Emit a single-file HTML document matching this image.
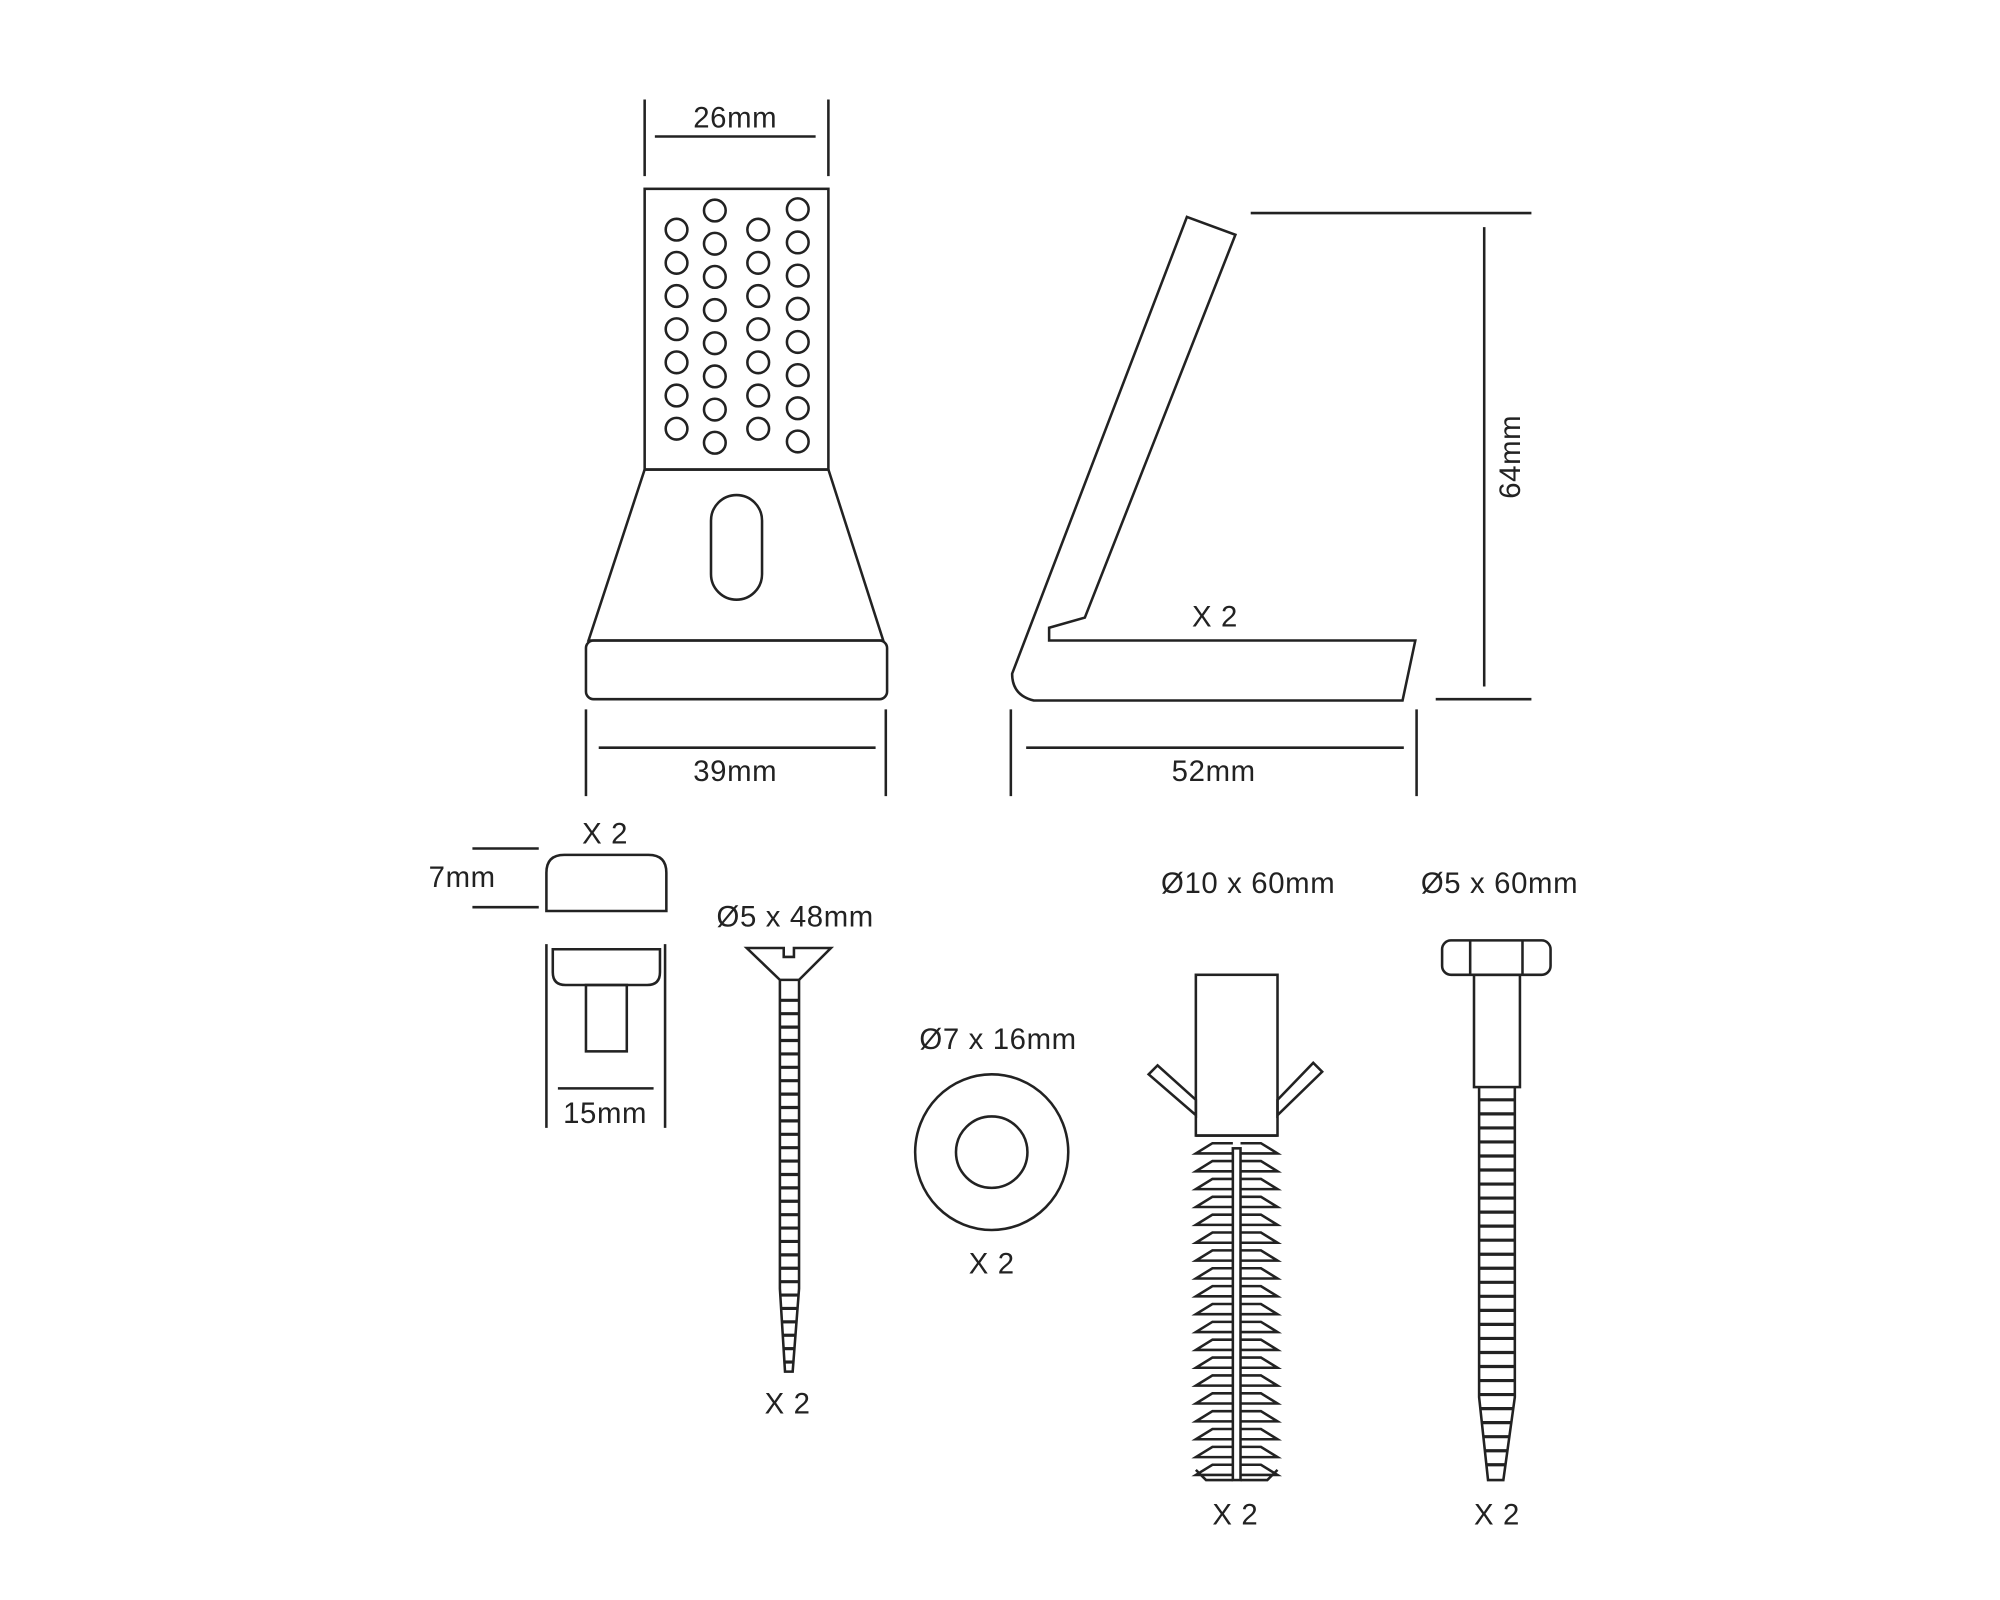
<!DOCTYPE html>
<html><head><meta charset="utf-8"><style>
html,body{margin:0;padding:0;background:#fff}
svg{display:block}
text{font-family:"Liberation Sans",Arial,sans-serif;font-size:23px;fill:#222;letter-spacing:0.5px}
</style></head><body>
<svg id="s" width="2000" height="1600" viewBox="0 0 1567 1254" xmlns="http://www.w3.org/2000/svg" fill="none" stroke="#222" stroke-width="2">
<!-- Front bracket -->
<rect x="505" y="148" width="144" height="220"/>
<g id="holes"></g>
<polygon points="505,368 649,368 692,502 461,502"/>
<rect x="557" y="388" width="40" height="82" rx="20"/>
<rect x="459" y="502" width="236" height="46" rx="6"/>
<line x1="505" y1="78" x2="505" y2="138"/><line x1="649" y1="78" x2="649" y2="138"/>
<line x1="513" y1="107" x2="639" y2="107"/>
<text x="576" y="100" text-anchor="middle" stroke="none">26mm</text>
<line x1="459" y1="556" x2="459" y2="624"/><line x1="694" y1="556" x2="694" y2="624"/>
<line x1="469" y1="586" x2="686" y2="586"/>
<text x="576" y="612" text-anchor="middle" stroke="none">39mm</text>
<!-- Side bracket -->
<path d="M930,170 L968,184 L850,484 L822,492 L822,502 L1109,502 L1099,549 L810,549 Q793,545 793,528 Z"/>
<text x="952" y="491" text-anchor="middle" stroke="none">X 2</text>
<line x1="980" y1="167" x2="1200" y2="167"/><line x1="1125" y1="548" x2="1200" y2="548"/>
<line x1="1163" y1="178" x2="1163" y2="538"/>
<text transform="translate(1191,358) rotate(-90)" text-anchor="middle" stroke="none">64mm</text>
<line x1="792" y1="556" x2="792" y2="624"/><line x1="1110" y1="556" x2="1110" y2="624"/>
<line x1="804" y1="586" x2="1100" y2="586"/>
<text x="951" y="612" text-anchor="middle" stroke="none">52mm</text>
<!-- Cap -->
<text x="474" y="661" text-anchor="middle" stroke="none">X 2</text>
<path d="M428,714 L428,684 Q428,670 442,670 L508,670 Q522,670 522,684 L522,714 Z"/>
<line x1="370" y1="665" x2="422" y2="665"/><line x1="370" y1="711" x2="422" y2="711"/>
<text x="362" y="695" text-anchor="middle" stroke="none">7mm</text>
<line x1="428" y1="740" x2="428" y2="884"/><line x1="521" y1="740" x2="521" y2="884"/>
<path d="M433,744 L517,744 L517,762 Q517,772 507,772 L443,772 Q433,772 433,762 Z"/>
<rect x="459" y="772" width="32" height="52"/>
<line x1="437" y1="853" x2="512" y2="853"/>
<text x="474" y="880" text-anchor="middle" stroke="none">15mm</text>
<!-- Screw 1 -->
<text x="623" y="726" text-anchor="middle" stroke="none">Ø5 x 48mm</text>
<path d="M585,743 L614,743 L614,750 L622,750 L622,743 L651,743 L626,768 L611,768 Z"/>
<path d="M611,768 L611,1010 L615,1075 L621,1075 L626,1010 L626,768"/>
<g id="t1"></g>
<text x="617" y="1108" text-anchor="middle" stroke="none">X 2</text>
<!-- Washer -->
<text x="782" y="822" text-anchor="middle" stroke="none">Ø7 x 16mm</text>
<ellipse cx="777" cy="903" rx="60" ry="61"/>
<circle cx="777" cy="903" r="28"/>
<text x="777" y="998" text-anchor="middle" stroke="none">X 2</text>
<!-- Anchor -->
<text x="978" y="700" text-anchor="middle" stroke="none">Ø10 x 60mm</text>
<rect x="937" y="764" width="64" height="126"/>
<polygon points="937,874 900,842 907,835 937,862"/>
<polygon points="1001,874 1036,840 1029,833 1001,862"/>
<g id="anc"></g>
<rect x="966" y="900" width="6" height="260"/>
<text x="968" y="1195" text-anchor="middle" stroke="none">X 2</text>
<!-- Bolt -->
<text x="1175" y="700" text-anchor="middle" stroke="none">Ø5 x 60mm</text>
<rect x="1130" y="737" width="85" height="27" rx="7"/>
<line x1="1152" y1="737" x2="1152" y2="764"/><line x1="1193" y1="737" x2="1193" y2="764"/>
<rect x="1155" y="764" width="36" height="88"/>
<path d="M1159,852 L1159,1095 L1166,1160 L1178,1160 L1187,1095 L1187,852"/>
<g id="t2"></g>
<text x="1173" y="1195" text-anchor="middle" stroke="none">X 2</text>
</svg>
<script>
var NS="http://www.w3.org/2000/svg";
function el(p,t,a){var e=document.createElementNS(NS,t);for(var k in a)e.setAttribute(k,a[k]);p.appendChild(e);return e;}
var h=document.getElementById('holes');
var cols=[[530,180,7],[560,165,8],[594,180,7],[625,164,8]];
cols.forEach(function(c){for(var i=0;i<c[2];i++)el(h,'circle',{cx:c[0],cy:c[1]+i*26,r:8.5});});
var t1=document.getElementById('t1');
for(var y=784;y<1072;y+=10.5){var l=611,r=626;if(y>1010){var f=(y-1010)/65;l=611+4*f;r=626-5*f;}
el(t1,'line',{x1:l,y1:y,x2:r,y2:y,'stroke-width':2.5});}
var t2=document.getElementById('t2');
for(var y=862;y<1155;y+=11){var l=1159,r=1187;if(y>1095){var f=(y-1095)/65;l=1159+7*f;r=1187-9*f;}
el(t2,'line',{x1:l,y1:y,x2:r,y2:y,'stroke-width':2.5});}
var a=document.getElementById('anc');
el(a,'path',{d:"M937,890 L1001,890"});
for(var y=893;y<1150;y+=14){
 el(a,'path',{d:"M966,"+(y+3)+" L950,"+(y+3)+" L937,"+(y+11)+" L966,"+(y+11)});
 el(a,'path',{d:"M972,"+(y+3)+" L988,"+(y+3)+" L1001,"+(y+11)+" L972,"+(y+11)});
}
el(a,'path',{d:"M937,1152 L945,1160 L966,1160 M972,1160 L993,1160 L1001,1152"});
</script>
</body></html>
